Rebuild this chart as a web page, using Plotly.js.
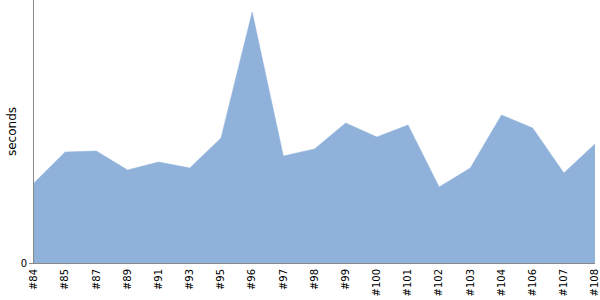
<!DOCTYPE html>
<html>
<head>
<meta charset="utf-8">
<script src="https://cdn.plot.ly/plotly-3.0.1.min.js"></script>
<style>html,body{margin:0;padding:0;background:#fff;}#chart{width:600px;height:300px;}</style>
</head>
<body>
<div id="chart"></div>
<script>
const builds = ["#84","#85","#87","#89","#91","#93","#95","#96","#97","#98","#99","#100","#101","#102","#103","#104","#106","#107","#108"];
const seconds = [80,111,112,93,101,95,125,251,107,114,140,126,138,76,95,148,135,90,119];

const trace = {
  x: builds,
  y: seconds,
  type: 'scatter',
  mode: 'lines',
  fill: 'tozeroy',
  fillcolor: '#8FB1DA',
  line: {color: '#8FB1DA', width: 0.5},
  hoverinfo: 'skip'
};

const layout = {
  width: 600, height: 300,
  margin: {l: 34, r: 5, t: 0, b: 37, pad: 0},
  paper_bgcolor: '#ffffff',
  plot_bgcolor: '#ffffff',
  showlegend: false,
  font: {family: 'DejaVu Sans', size: 10, color: '#000'},
  xaxis: {
    type: 'category',
    range: [0, builds.length - 1],
    tickangle: -90,
    showgrid: false,
    zeroline: false,
    showline: true,
    linecolor: '#888888',
    linewidth: 1,
    ticks: 'outside',
    ticklen: 1,
    tickcolor: 'rgba(0,0,0,0)',
    tickfont: {family: 'DejaVu Sans', size: 10, color: '#000'},
    fixedrange: true
  },
  yaxis: {
    range: [0, 263],
    tickvals: [0],
    ticktext: ['0'],
    showgrid: false,
    zeroline: false,
    showline: true,
    linecolor: '#888888',
    linewidth: 1,
    ticks: 'outside',
    ticklen: 4,
    tickcolor: '#888888',
    tickfont: {family: 'DejaVu Sans', size: 10, color: '#000'},
    title: {text: 'seconds', font: {family: 'DejaVu Sans', size: 12, color: '#000'}, standoff: 1},
    fixedrange: true
  }
};

Plotly.newPlot('chart', [trace], layout, {displayModeBar: false, staticPlot: true});
</script>
</body>
</html>
